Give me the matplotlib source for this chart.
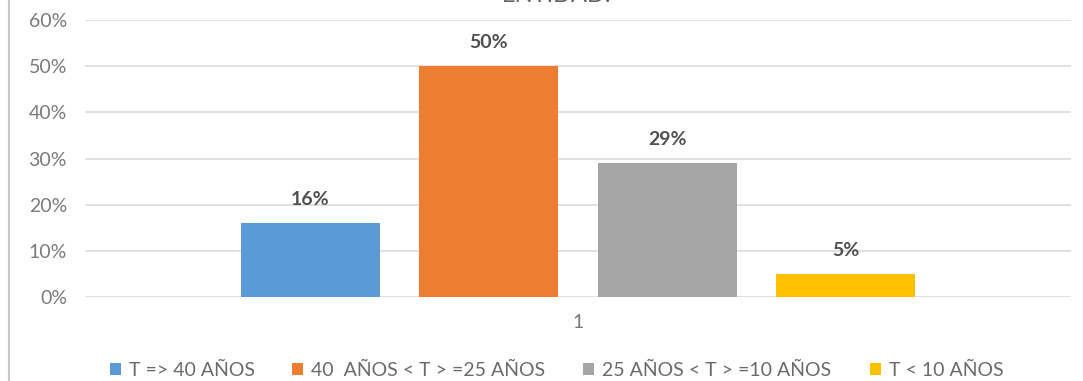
import matplotlib
matplotlib.use("Agg")
import matplotlib.pyplot as plt
from matplotlib.lines import Line2D
from matplotlib.patches import Patch

# Data
series = ['T => 40 AÑOS', '40  AÑOS < T > =25 AÑOS', '25 AÑOS < T > =10 AÑOS', 'T < 10 AÑOS']
values = [16, 50, 29, 5]
colors = ['#5B9BD5', '#ED7D31', '#A5A5A5', '#FFC000']
category = '1'
title = 'ENTIDAD.'

plt.rcParams['font.family'] = ['Lato', 'DejaVu Sans']

W, H = 1083, 381
fig = plt.figure(figsize=(W / 100, H / 100), dpi=100)
ax = fig.add_axes([85 / W, 1 - 297 / H, 986 / W, 277 / H])

bar_w = 0.141
step = 0.181
offsets = [(i - 1.5) * step for i in range(len(values))]
for off, v, c in zip(offsets, values, colors):
    ax.bar(off, v, width=bar_w, color=c, zorder=3)
    ax.annotate(f'{v}%', (off, v), xytext=(0, 17), textcoords='offset points',
                ha='center', va='center', fontsize=14, fontweight='bold', color='#505050')

ax.set_xlim(-0.5, 0.5)
ax.set_ylim(0, 60)
ax.set_yticks(range(0, 61, 10))
ax.set_yticklabels([f'{t}%' for t in range(0, 61, 10)])
ax.set_xticks([0])
ax.set_xticklabels([category])
ax.grid(axis='y', color='#DCDCDC', linewidth=1.2, zorder=0)
for s in ax.spines.values():
    s.set_visible(False)
ax.tick_params(axis='both', length=0, labelsize=14, labelcolor='#7A7A7A')
ax.tick_params(axis='y', pad=13)
ax.tick_params(axis='x', pad=12)

# chart title, only its lower part falls inside the image
fig.text(557 / W, 1.012, title, ha='center', va='center', fontsize=17, color='#606060')

# left frame edge
fig.add_artist(Line2D([9 / W, 9 / W], [0, 1], color='#C8C8C8', linewidth=1.5))

# legend entries laid out one by one along the bottom
legend_x = [110, 292, 583, 870]
for lx, c, name in zip(legend_x, colors, series):
    fig.legend([Patch(facecolor=c, edgecolor='none')], [name], loc='center left',
               bbox_to_anchor=(lx / W, 1 - 370 / H), frameon=False, fontsize=14,
               labelcolor='#6A6A6A', handlelength=0.55, handleheight=0.55,
               handletextpad=0.45, borderpad=0, borderaxespad=0)

fig.savefig('out.png', dpi=100)
